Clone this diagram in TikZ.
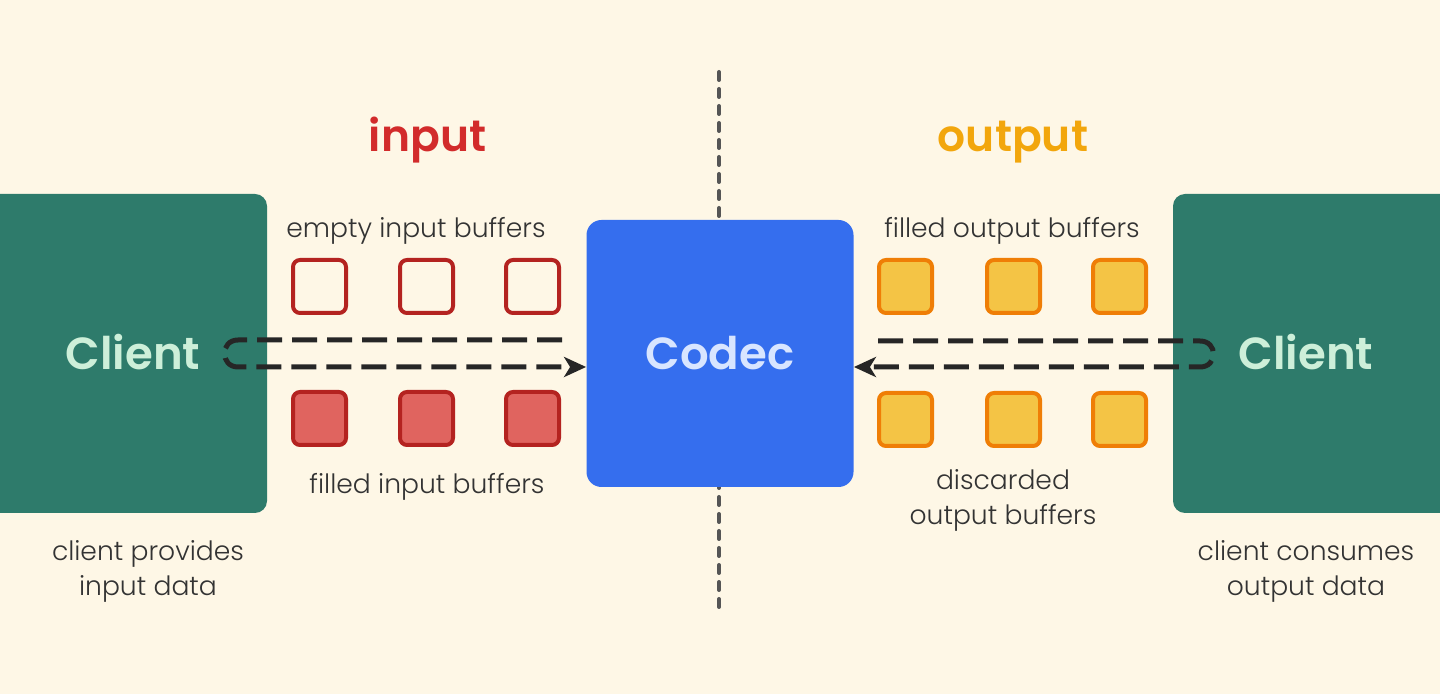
\documentclass[tikz,border=0pt]{standalone}
\usepackage{fontspec}
\setmainfont{Poppins}[UprightFont=* Light, BoldFont=* SemiBold]
\usetikzlibrary{arrows.meta,calc}
\definecolor{bg}{HTML}{FEF7E6}
\definecolor{clientgreen}{HTML}{2E7B6B}
\definecolor{clienttext}{HTML}{CDEFD9}
\definecolor{codecblue}{HTML}{356EEE}
\definecolor{codectext}{HTML}{D8E5FF}
\definecolor{inred}{HTML}{D22B2B}
\definecolor{outorange}{HTML}{F2A60C}
\definecolor{bufredline}{HTML}{B42320}
\definecolor{bufredfill}{HTML}{E0645F}
\definecolor{bufoline}{HTML}{EF7E06}
\definecolor{bufofill}{HTML}{F4C445}
\definecolor{labeltext}{HTML}{333333}
\definecolor{arrowcol}{HTML}{262626}
\definecolor{vlinecol}{HTML}{555555}
\begin{document}
\begin{tikzpicture}[x=0.5pt,y=-0.5pt,
  clientbox/.style={fill=clientgreen, rounded corners=6pt, minimum width=148.5pt, minimum height=159.5pt, inner sep=0pt},
  bigtext/.style={font=\fontsize{22.5}{27}\selectfont\bfseries, inner sep=0pt},
  codecbox/.style={fill=codecblue, rounded corners=7.5pt, minimum width=133.5pt, minimum height=133.5pt, inner sep=0pt, text=codectext, font=\fontsize{22.5}{27}\selectfont\bfseries},
  emptybuf/.style={draw=bufredline, line width=2pt, rounded corners=3.5pt, minimum size=26.5pt, inner sep=0pt},
  fullbuf/.style={emptybuf, fill=bufredfill},
  outbuf/.style={draw=bufoline, fill=bufofill, line width=2pt, rounded corners=3.5pt, minimum size=26.5pt, inner sep=0pt},
  lbl/.style={text=labeltext, font=\fontsize{13.3}{17.8}\selectfont, align=center, inner sep=0pt},
  title/.style={font=\fontsize{22}{26}\selectfont\bfseries, inner sep=0pt},
  flow/.style={draw=arrowcol, line width=2.5pt, dash pattern=on 12.5pt off 5pt},
  tip/.style={-{Stealth[length=11pt,width=10pt,inset=3pt]}},
  sepline/.style={draw=vlinecol, line width=2pt, line cap=round, dash pattern=on 4pt off 4.5pt}
]
\useasboundingbox (0,0) rectangle (1440,694);
\fill[bg] (0,0) rectangle (1440,694);

% separator
\coordinate (vtop) at (719,72);
\coordinate (vbot) at (719,608);
\draw[sepline] (vtop) -- (vbot);

% clients
\node[clientbox] (lclientbox) at (118.5,353.5) {};
\node[clientbox] (rclientbox) at (1321.5,353.5) {};
\node[bigtext, text=clienttext] (lclient) at (133,352) {Client};
\node[bigtext, text=clienttext] (rclient) at (1306,352) {Client};

% codec
\node[codecbox] (codec) at (720,353.5) {Codec};

% titles
\node[title, text=inred, anchor=base] (intitle) at (427.5,152) {input};
\node[title, text=outorange, anchor=base] (outtitle) at (1013,152) {output};

% input buffers
\node[emptybuf] (e1) at (319.5,286.5) {};
\node[emptybuf] (e2) at (426.5,286.5) {};
\node[emptybuf] (e3) at (532.5,286.5) {};
\node[fullbuf] (f1) at (319.5,418.5) {};
\node[fullbuf] (f2) at (426.5,418.5) {};
\node[fullbuf] (f3) at (532.5,418.5) {};

% output buffers
\node[outbuf] (o1) at (905.5,286.5) {};
\node[outbuf] (o2) at (1013.5,286.5) {};
\node[outbuf] (o3) at (1119.5,286.5) {};
\node[outbuf] (d1) at (905.5,419.5) {};
\node[outbuf] (d2) at (1013.5,419.5) {};
\node[outbuf] (d3) at (1119.5,419.5) {};

% labels
\node[lbl] (l1) at (416,231) {empty input buffers};
\node[lbl] (l2) at (427,487) {filled input buffers};
\node[lbl] (l3) at (1012,231) {filled output buffers};
\node[lbl] (l4) at (1003,500.5) {discarded\\output buffers};
\node[lbl] (l5) at (148,571.5) {client provides\\input data};
\node[lbl] (l6) at (1306,571.5) {client consumes\\output data};

% flows
\coordinate (lA) at (562,340);
\coordinate (lB) at (238,340);
\coordinate (lC) at (238,367);
\draw[flow, tip] (lA) -- (lB) .. controls +(-18,0) and +(-18,0) .. (lC) -- (lC -| codec.west);

\coordinate (rA) at (878,341);
\coordinate (rB) at (1200,341);
\coordinate (rC) at (1200,367);
\draw[flow, tip] (rA) -- (rB) .. controls +(18,0) and +(18,0) .. (rC) -- (rC -| codec.east);
\end{tikzpicture}
\end{document}
